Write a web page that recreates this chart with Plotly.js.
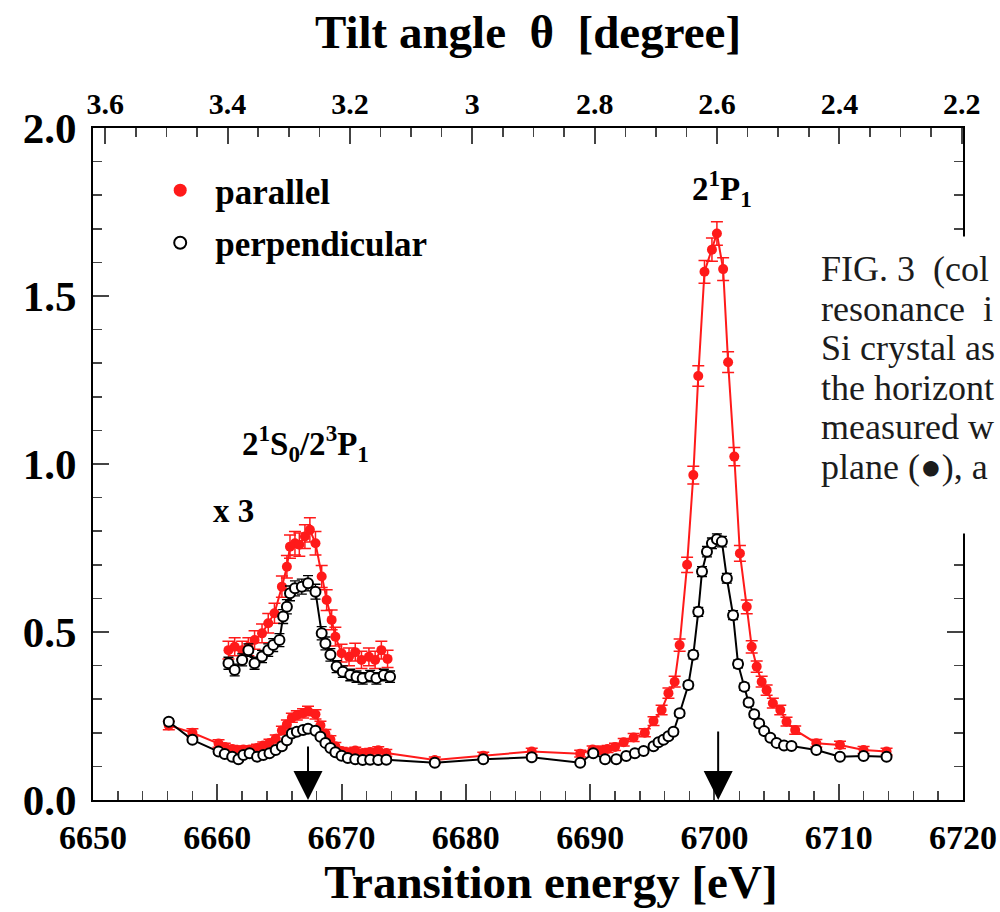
<!DOCTYPE html>
<html>
<head>
<meta charset="utf-8">
<script src="https://cdn.plot.ly/plotly-3.0.1.min.js"></script>
<style>html,body{margin:0;padding:0;background:#fff;}#chart{width:1000px;height:912px;}</style>
</head>
<body>
<div id="chart"></div>
<script>
// ---- main spectrum, parallel (red, filled) ----
const parE = [6656.1,6658.0,6660.1,6660.6,6661.2,6661.7,6662.1,6662.6,6663.2,6663.7,6664.2,6664.7,6665.2,6665.6,6666.0,6666.4,6666.9,6667.3,6667.9,6668.3,6668.7,6669.1,6669.5,6670.0,6670.5,6671.1,6671.7,6672.3,6672.95,6673.6,6677.5,6681.4,6685.3,6689.2,6690.2,6690.8,6691.4,6692.0,6692.7,6693.5,6694.4,6695.1,6695.75,6696.3,6696.8,6697.2,6697.8,6698.3,6698.7,6699.2,6699.8,6700.2,6700.7,6701.1,6701.6,6702.05,6702.6,6703.0,6703.4,6703.8,6704.2,6704.7,6705.3,6705.8,6706.5,6708.2,6710.1,6712.0,6713.85];
const parV = [0.222,0.200,0.168,0.158,0.152,0.148,0.150,0.150,0.155,0.162,0.170,0.182,0.207,0.225,0.245,0.252,0.258,0.265,0.255,0.222,0.198,0.180,0.160,0.146,0.142,0.147,0.140,0.143,0.148,0.140,0.119,0.132,0.144,0.138,0.150,0.148,0.152,0.158,0.172,0.186,0.200,0.235,0.268,0.318,0.352,0.461,0.700,0.967,1.262,1.572,1.638,1.686,1.580,1.303,1.022,0.734,0.575,0.456,0.397,0.352,0.327,0.288,0.268,0.233,0.208,0.169,0.164,0.149,0.144];

// ---- main spectrum, perpendicular (black, open) ----
const perE = [6656.1,6658.0,6660.1,6660.6,6661.2,6661.7,6662.1,6662.6,6663.2,6663.7,6664.2,6664.7,6665.2,6665.6,6666.0,6666.4,6666.9,6667.3,6667.9,6668.3,6668.7,6669.1,6669.5,6670.0,6670.5,6671.1,6671.7,6672.3,6672.95,6673.6,6677.5,6681.4,6685.3,6689.2,6690.25,6691.2,6692.1,6692.9,6693.6,6694.3,6695.1,6695.5,6695.9,6696.3,6696.7,6697.2,6697.9,6698.3,6698.7,6699.0,6699.4,6699.8,6700.2,6700.6,6701.0,6701.5,6701.9,6702.4,6702.75,6703.2,6703.6,6704.0,6704.5,6705.0,6705.6,6706.2,6708.2,6710.1,6712.0,6713.85];
const perV = [0.233,0.179,0.144,0.137,0.129,0.121,0.134,0.139,0.129,0.134,0.139,0.149,0.160,0.178,0.198,0.203,0.208,0.212,0.206,0.188,0.170,0.155,0.142,0.132,0.125,0.121,0.119,0.120,0.119,0.120,0.111,0.121,0.127,0.111,0.139,0.121,0.121,0.131,0.139,0.146,0.160,0.172,0.179,0.190,0.203,0.258,0.342,0.432,0.560,0.680,0.739,0.764,0.776,0.769,0.660,0.550,0.405,0.337,0.290,0.255,0.228,0.205,0.185,0.170,0.162,0.161,0.149,0.129,0.131,0.129];

// ---- inset "x 3" around 2^1S0/2^3P1 ----
const parInsetE = [6660.9,6661.4,6662.0,6662.5,6663.0,6663.6,6664.1,6664.6,6665.2,6665.6,6665.85,6666.25,6666.6,6667.05,6667.45,6667.9,6668.4,6668.8,6669.2,6669.5,6670.0,6670.6,6671.1,6671.6,6672.2,6672.7,6673.2,6673.7];
const parInsetV = [0.446,0.456,0.446,0.456,0.476,0.496,0.526,0.556,0.635,0.694,0.754,0.764,0.760,0.784,0.804,0.764,0.665,0.595,0.536,0.486,0.437,0.426,0.440,0.417,0.426,0.417,0.446,0.420];
const perInsetE = [6660.9,6661.4,6662.0,6662.5,6663.0,6663.6,6664.1,6664.5,6665.0,6665.3,6665.6,6665.85,6666.25,6666.8,6667.3,6667.9,6668.4,6668.7,6669.1,6669.6,6670.1,6670.7,6671.2,6671.7,6672.3,6672.8,6673.4,6673.9];
const perInsetV = [0.407,0.387,0.417,0.446,0.407,0.427,0.446,0.461,0.476,0.546,0.575,0.615,0.630,0.635,0.645,0.620,0.496,0.466,0.432,0.397,0.382,0.372,0.367,0.362,0.369,0.362,0.372,0.367];

// resonance positions marked by arrows
const arrowE = [6667.3, 6700.3];

// tick labels of the top (tilt angle) axis
const angleTicks = [3.6,3.4,3.2,3.0,2.8,2.6,2.4,2.2];
const angleLabels = ['3.6','3.4','3.2','3','2.8','2.6','2.4','2.2'];

// caption text (cut off at the page edge in the source figure)
const captionLines = ['FIG. 3  (col','resonance  i','Si crystal as','the horizont','measured w','plane (●), a'];

const SERIF = 'Liberation Serif, Times New Roman, serif';
const RED = '#ff1a1a';

// plot-area geometry (px) used to place paper-referenced items
const PL = 93, PW = 870, PT = 128, PH = 672;
const px2paperX = p => (p - PL) / PW;
const px2paperY = p => (PT + PH - p) / PH;

function err(v, k){ return v.map(a => k*Math.sqrt(a)); }

const traces = [
  {x: parE, y: parV, type:'scatter', mode:'lines+markers', showlegend:false,
   line:{color:RED, width:2}, marker:{color:RED, size:10, symbol:'circle'},
   error_y:{type:'data', array: err(parV,0.027), color:RED, thickness:1.5, width:6}},
  {x: parInsetE, y: parInsetV, type:'scatter', mode:'lines+markers', showlegend:false,
   line:{color:RED, width:2}, marker:{color:RED, size:10, symbol:'circle'},
   error_y:{type:'data', array: err(parInsetV,0.04), color:RED, thickness:1.5, width:6}},
  {x: perE, y: perV, type:'scatter', mode:'lines+markers', showlegend:false,
   line:{color:'#000', width:2}, marker:{color:'#fff', size:10, symbol:'circle', line:{color:'#000', width:2}},
   error_y:{type:'data', array: err(perV,0.018), color:'#000', thickness:1.3, width:5}},
  {x: perInsetE, y: perInsetV, type:'scatter', mode:'lines+markers', showlegend:false,
   line:{color:'#000', width:2}, marker:{color:'#fff', size:10, symbol:'circle', line:{color:'#000', width:2}},
   error_y:{type:'data', array: err(perInsetV,0.028), color:'#000', thickness:1.3, width:5}},
  // legend entries (markers only)
  {x:[null], y:[null], type:'scatter', mode:'markers', name:'parallel', legendgroup:'a',
   marker:{color:RED, size:13, symbol:'circle'}},
  {x:[null], y:[null], type:'scatter', mode:'markers', name:'perpendicular', legendgroup:'b',
   marker:{color:'#fff', size:12, symbol:'circle', line:{color:'#000', width:2}}},
  // carrier for the top axis
  {x:[3.0], y:[null], xaxis:'x2', yaxis:'y', type:'scatter', mode:'markers', showlegend:false, hoverinfo:'skip'}
];

const annotations = [
  {x:6700.6, y:1.82, xref:'x', yref:'y', text:'2<sup>1</sup>P<sub>1</sub>', showarrow:false,
   font:{family:SERIF, size:33, weight:'bold', color:'#000'}},
  {x:6667.1, y:1.06, xref:'x', yref:'y', text:'2<sup>1</sup>S<sub>0</sub>/2<sup>3</sup>P<sub>1</sub>', showarrow:false,
   font:{family:SERIF, size:33, weight:'bold', color:'#000'}},
  {x:6661.3, y:0.86, xref:'x', yref:'y', text:'x 3', showarrow:false,
   font:{family:SERIF, size:33, weight:'bold', color:'#000'}},
  // white panel behind the caption (it hides the right frame there)
  {x:px2paperX(805), y:px2paperY(385), xref:'paper', yref:'paper', xanchor:'left', yanchor:'middle',
   text:'\u00a0', width:200, height:296, bgcolor:'#fff', borderpad:0, showarrow:false,
   font:{family:SERIF, size:10, color:'#fff'}}
];
const captionY = [268, 307.5, 347, 386.5, 426, 465.5];
captionLines.forEach((t,i) => annotations.push({
  x:px2paperX(819), y:px2paperY(captionY[i] + 1), xref:'paper', yref:'paper', xanchor:'left', yanchor:'middle',
  align:'left', text:t, showarrow:false, font:{family:SERIF, size:36, color:'#1c1c1c'}
}));
const arrowLen = [55, 70];
arrowE.forEach((e,i) => annotations.push({
  x:e, y:0, xref:'x', yref:'y', ax:0, ay:-arrowLen[i], axref:'pixel', ayref:'pixel',
  showarrow:true, arrowhead:2, arrowsize:2.9, arrowwidth:2, arrowcolor:'#000', text:''
}));

const layout = {
  width:1000, height:912,
  margin:{l:PL, r:1000-PL-PW, t:PT, b:912-PT-PH},
  paper_bgcolor:'#fff', plot_bgcolor:'#fff',
  showlegend:true,
  legend:{x:0.06, y:0.951, xanchor:'left', yanchor:'top', bgcolor:'rgba(0,0,0,0)',
          itemwidth:60, tracegroupgap:4,
          font:{family:SERIF, size:35, weight:'bold', color:'#000'}},
  xaxis:{range:[6650,6720], dtick:10, tick0:6650, ticks:'inside', ticklen:16, tickwidth:2,
         minor:{dtick:2, ticks:'inside', ticklen:9, tickwidth:1.5},
         showline:true, linewidth:2, linecolor:'#000', mirror:false,
         showgrid:false, zeroline:false, ticklabelstandoff:6,
         tickfont:{family:SERIF, size:34, weight:'bold', color:'#000'},
         title:{text:'\u2800\u00a0Transition energy [eV]', standoff:10,
                font:{family:SERIF, size:47, weight:'bold', color:'#000'}}},
  xaxis2:{overlaying:'x', side:'top', anchor:'y', range:[3.62,2.198],
          tickmode:'array', tickvals:angleTicks, ticktext:angleLabels,
          ticks:'inside', ticklen:16, tickwidth:2,
          minor:{dtick:0.05, tick0:2.2, ticks:'inside', ticklen:9, tickwidth:1.5},
          showline:true, linewidth:2, linecolor:'#000',
          showgrid:false, zeroline:false,
          tickfont:{family:SERIF, size:30, weight:'bold', color:'#000'},
          title:{text:'Tilt angle \u00a0θ\u00a0 [degree]', standoff:24,
                 font:{family:SERIF, size:47, weight:'bold', color:'#000'}}},
  yaxis:{range:[0,2.0], dtick:0.5, tick0:0, tickformat:'.1f', ticks:'inside', ticklen:16, tickwidth:2,
         minor:{dtick:0.1, ticks:'inside', ticklen:9, tickwidth:1.5},
         showline:true, linewidth:2, linecolor:'#000', mirror:'ticks',
         showgrid:false, zeroline:false, ticklabelstandoff:6,
         tickfont:{family:SERIF, size:43, weight:'bold', color:'#000'}},
  annotations: annotations
};

Plotly.newPlot('chart', traces, layout, {displayModeBar:false, staticPlot:true});
</script>
</body>
</html>
